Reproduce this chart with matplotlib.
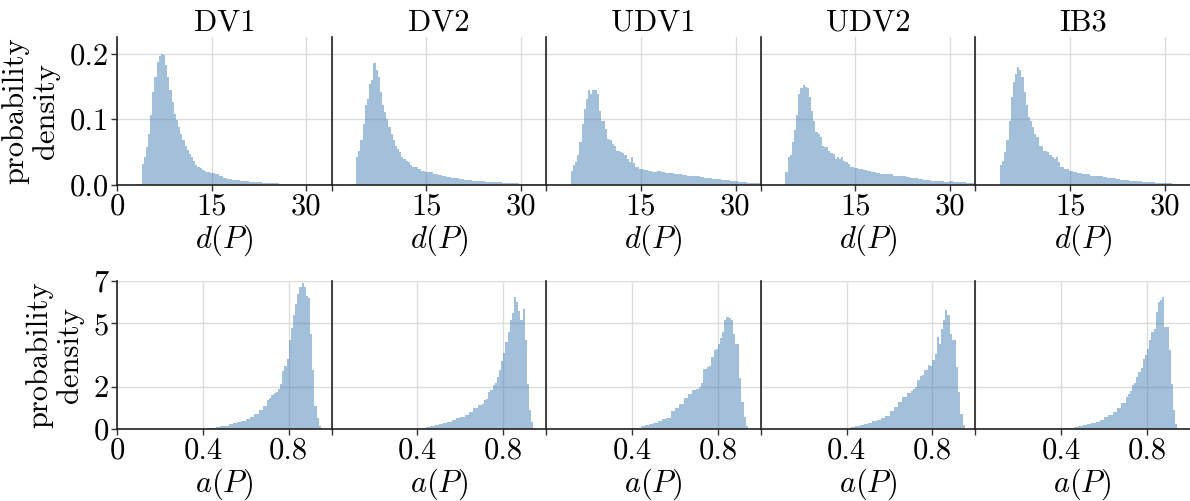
import numpy as np
import matplotlib
matplotlib.use('Agg')
import matplotlib.pyplot as plt

plt.rcParams['font.family'] = 'serif'
plt.rcParams['font.serif'] = ['cmr10', 'DejaVu Serif']
plt.rcParams['mathtext.fontset'] = 'cm'
plt.rcParams['axes.formatter.use_mathtext'] = True
plt.rcParams['axes.unicode_minus'] = False

models = ['DV1', 'DV2', 'UDV1', 'UDV2', 'IB3']

# bin edges of the two histograms (fine near the peak, coarser in the tail)
d_edges = np.round(np.concatenate([[2.9], np.arange(3.9, 14.0, 0.34), np.arange(14.1, 34.51, 0.68)]), 2)
a_edges = np.round(np.concatenate([np.arange(0.36, 0.69, 0.02), np.arange(0.70, 0.985, 0.01)]), 2)

# density of d(P)
d_dv1 = [0.0015,
         0.032, 0.042, 0.058, 0.078, 0.106, 0.142, 0.165, 0.187, 0.196, 0.200,
         0.197, 0.182, 0.164, 0.144, 0.126, 0.108, 0.099, 0.088, 0.078, 0.068,
         0.060, 0.053, 0.047, 0.042, 0.036, 0.031, 0.028, 0.026, 0.023, 0.022,
         0.020, 0.018, 0.016, 0.013, 0.011, 0.009, 0.008, 0.007, 0.006, 0.0055,
         0.005, 0.0045, 0.004, 0.0035, 0.003, 0.003, 0.0025, 0.002, 0.002, 0.002,
         0.0015, 0.0015, 0.0015, 0.0012, 0.0012, 0.001, 0.001, 0.001, 0.001, 0.001]
d_dv2 = [0.002,
         0.042, 0.052, 0.068, 0.093, 0.121, 0.131, 0.154, 0.159, 0.185, 0.175,
         0.164, 0.141, 0.121, 0.111, 0.101, 0.088, 0.078, 0.068, 0.060, 0.055,
         0.050, 0.043, 0.040, 0.037, 0.035, 0.031, 0.028, 0.028, 0.027, 0.024,
         0.022, 0.020, 0.019, 0.017, 0.015, 0.013, 0.012, 0.011, 0.010, 0.009,
         0.008, 0.007, 0.0065, 0.006, 0.0055, 0.005, 0.0045, 0.004, 0.0038, 0.0035,
         0.003, 0.003, 0.0025, 0.0022, 0.002, 0.002, 0.0018, 0.0016, 0.0015, 0.0015]
d_udv1 = [0.0,
          0.022, 0.030, 0.035, 0.045, 0.065, 0.093, 0.116, 0.131, 0.145, 0.139,
          0.145, 0.145, 0.139, 0.113, 0.098, 0.098, 0.085, 0.070, 0.068, 0.063,
          0.060, 0.052, 0.052, 0.050, 0.048, 0.046, 0.040, 0.035, 0.042, 0.034,
          0.027, 0.024, 0.023, 0.021, 0.020, 0.021, 0.019, 0.018, 0.018, 0.016,
          0.016, 0.015, 0.014, 0.013, 0.013, 0.012, 0.011, 0.010, 0.009, 0.009,
          0.008, 0.007, 0.0065, 0.006, 0.005, 0.004, 0.0035, 0.003, 0.0025, 0.002]
d_udv2 = [0.0,
          0.019, 0.042, 0.045, 0.065, 0.083, 0.106, 0.139, 0.147, 0.152, 0.149,
          0.147, 0.134, 0.113, 0.098, 0.080, 0.078, 0.073, 0.060, 0.058, 0.058,
          0.052, 0.048, 0.047, 0.040, 0.043, 0.040, 0.042, 0.036, 0.035, 0.032,
          0.028, 0.026, 0.024, 0.023, 0.021, 0.019, 0.018, 0.017, 0.017, 0.016,
          0.014, 0.013, 0.013, 0.012, 0.011, 0.010, 0.009, 0.008, 0.007, 0.006,
          0.0065, 0.0055, 0.005, 0.0055, 0.004, 0.0045, 0.004, 0.003, 0.0035, 0.0025]
d_ib3 = [0.0,
         0.030, 0.037, 0.050, 0.068, 0.098, 0.134, 0.157, 0.169, 0.179, 0.175,
         0.164, 0.141, 0.121, 0.103, 0.098, 0.088, 0.078, 0.073, 0.060, 0.059,
         0.052, 0.052, 0.050, 0.045, 0.042, 0.040, 0.043, 0.035, 0.028, 0.027,
         0.024, 0.022, 0.020, 0.018, 0.017, 0.016, 0.014, 0.013, 0.013, 0.012,
         0.011, 0.010, 0.009, 0.008, 0.007, 0.0065, 0.006, 0.0055, 0.005, 0.0045,
         0.004, 0.0035, 0.003, 0.003, 0.0025, 0.002, 0.002, 0.0015, 0.0018, 0.0015]

# density of a(P)
a_dv1 = [0, 0, 0.01, 0.04, 0.07, 0.10, 0.13, 0.16, 0.22, 0.28, 0.33, 0.38, 0.46, 0.58, 0.72, 0.90, 1.10,
         1.36, 1.45, 1.6, 1.7, 1.75, 1.9, 2.15, 2.75, 3.0, 3.3, 4.2, 4.8, 5.4, 5.9,
         6.4, 6.7, 6.9, 6.7, 6.3, 6.2, 4.5, 2.8, 1.1, 0.5, 0.15, 0.03, 0, 0]
a_dv2 = [0, 0.01, 0.03, 0.06, 0.09, 0.12, 0.17, 0.22, 0.29, 0.35, 0.42, 0.5, 0.58, 0.68, 0.82, 0.98, 1.12,
         1.2, 1.35, 1.44, 1.75, 1.85, 2.07, 2.2, 2.46, 2.8, 3.2, 3.6, 4.1, 4.6, 5.15,
         5.47, 6.26, 6.0, 5.6, 5.15, 5.7, 4.2, 2.15, 0.88, 0.33, 0.06, 0, 0, 0]
a_udv1 = [0.01, 0.03, 0.04, 0.07, 0.12, 0.17, 0.22, 0.3, 0.36, 0.46, 0.52, 0.85, 1.0, 1.2, 1.45, 1.65, 1.85,
          1.9, 2.0, 2.2, 2.85, 2.85, 2.94, 3.0, 3.4, 3.75, 3.8, 4.0, 4.3, 4.6, 5.15,
          5.3, 5.25, 5.15, 4.5, 4.0, 4.0, 2.4, 1.28, 0.57, 0.13, 0, 0, 0, 0]
a_udv2 = [0, 0.02, 0.05, 0.08, 0.12, 0.17, 0.22, 0.28, 0.36, 0.42, 0.52, 0.62, 0.85, 1.05, 1.3, 1.5, 1.7,
          1.8, 1.9, 2.0, 2.3, 2.5, 2.55, 2.78, 2.8, 3.05, 3.0, 3.25, 3.57, 4.36, 4.0,
          4.75, 5.15, 5.62, 5.4, 4.5, 4.2, 4.2, 2.94, 1.75, 0.73, 0.17, 0, 0, 0]
a_ib3 = [0, 0, 0.03, 0.05, 0.07, 0.1, 0.15, 0.2, 0.25, 0.28, 0.35, 0.42, 0.55, 0.65, 0.8, 1.0, 1.25,
         1.5, 1.67, 1.8, 2.07, 2.2, 2.46, 2.7, 2.9, 3.33, 3.5, 3.8, 4.2, 4.6, 4.75,
         5.55, 6.0, 6.1, 6.26, 4.83, 4.83, 3.73, 2.15, 0.88, 0.25, 0.03, 0, 0, 0]

d_data = [d_dv1, d_dv2, d_udv1, d_udv2, d_ib3]
a_data = [a_dv1, a_dv2, a_udv1, a_udv2, a_ib3]

d_ticks = [0, 15, 30]
a_ticks = [0, 0.4, 0.8]
d_yticks = [0.0, 0.1, 0.2]
a_yticks = [0, 2, 5, 7]

fs = 22
fig = plt.figure(figsize=(11.9, 5.01), dpi=100)
axes = fig.subplots(2, 5, sharey='row')
fig.subplots_adjust(left=0.0983, right=1.0, top=0.926, bottom=0.1437, wspace=0, hspace=0.65)

rows = [(d_edges, d_data, d_ticks, ['0', '15', '30'], d_yticks, ['0.0', '0.1', '0.2'], (0, 34), (0, 0.225), r'$d(P)$'),
        (a_edges, a_data, a_ticks, ['0', '0.4', '0.8'], a_yticks, ['0', '2', '5', '7'], (0, 1.0), (0, 7), r'$a(P)$')]

for r, (edges, data, xt, xtl, yt, ytl, xl, yl, xlab) in enumerate(rows):
    for c in range(5):
        ax = axes[r, c]
        vals = np.array(data[c])
        ax.hist(edges[:-1], bins=edges, weights=vals, color='steelblue', alpha=0.5, zorder=2)
        ax.set_xlim(*xl)
        ax.set_ylim(*yl)
        ax.set_xticks(xt)
        if c == 0:
            ax.set_xticklabels(xtl)
        else:
            ax.set_xticklabels([''] + xtl[1:])
        ax.set_yticks(yt)
        ax.set_yticklabels(ytl)
        ax.grid(True, color='#dcdcdc', linewidth=1.0, zorder=0)
        ax.set_axisbelow(True)
        ax.spines['top'].set_visible(False)
        ax.spines['right'].set_visible(False)
        for s in ['left', 'bottom']:
            ax.spines[s].set_color('#222222')
            ax.spines[s].set_linewidth(1.2)
        ax.tick_params(direction='out', length=4, width=1, color='#333333', labelsize=fs, pad=2)
        if c > 0:
            ax.tick_params(axis='y', labelleft=False, length=0)
        ax.set_xlabel(xlab, fontsize=fs, labelpad=1)
        if r == 0:
            ax.set_title(models[c], fontsize=fs, pad=5)
        if c == 0:
            ax.set_ylabel('probability\ndensity', fontsize=fs, labelpad=7, linespacing=1.1)

fig.savefig('out.png', dpi=100)
